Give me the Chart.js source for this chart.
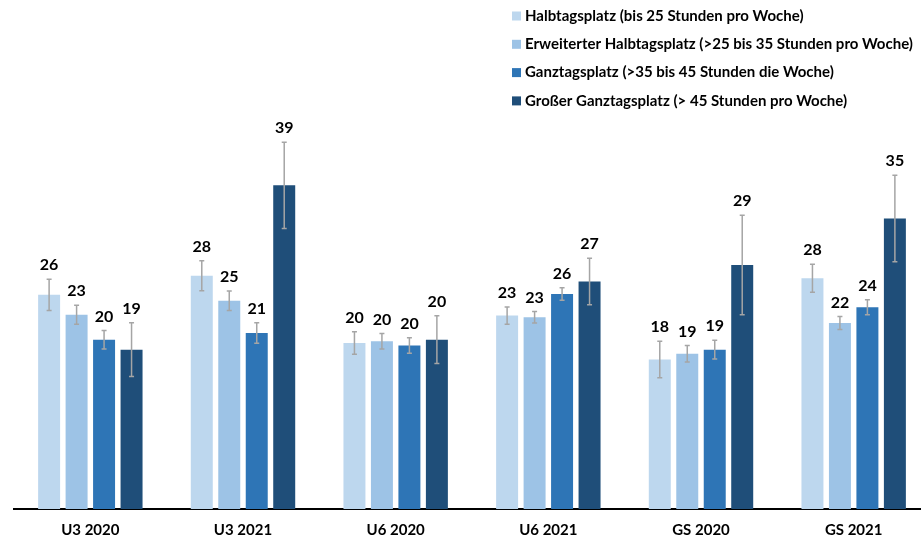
<!DOCTYPE html>
<html>
<head>
<meta charset="utf-8">
<script src="https://cdn.jsdelivr.net/npm/chart.js@4"></script>
<style>
    html, body { margin: 0; padding: 0; overflow: hidden; background: #fff; }
</style>
</head>
<body>
<canvas id="chart" width="930" height="540"></canvas>
<script>
const categories = ['U3 2020', 'U3 2021', 'U6 2020', 'U6 2021', 'GS 2020', 'GS 2021'];

const seriesNames = [
    'Halbtagsplatz (bis 25 Stunden pro Woche)',
    'Erweiterter Halbtagsplatz (>25 bis 35 Stunden pro Woche)',
    'Ganztagsplatz (>35 bis 45 Stunden die Woche)',
    'Großer Ganztagsplatz (> 45 Stunden pro Woche)'
];

const halbtag = [25.8, 28.1, 20.0, 23.3, 18.0, 27.8];
const erweitert = [23.4, 25.1, 20.2, 23.1, 18.7, 22.4];
const ganztag = [20.4, 21.2, 19.7, 25.9, 19.2, 24.3];
const grossGanztag = [19.2, 39.0, 20.4, 27.4, 29.4, 35.0];

// half width of the error bars (same units as the values)
const halbtagErr = [1.87, 1.8, 1.35, 1.05, 2.2, 1.7];
const erweitertErr = [1.14, 1.17, 0.93, 0.7, 0.99, 0.78];
const ganztagErr = [1.12, 1.24, 0.94, 0.76, 1.13, 0.9];
const grossGanztagErr = [3.25, 5.2, 2.87, 2.8, 6.0, 5.2];

const colors = ['#BDD7EE', '#9DC3E6', '#2E75B6', '#1F4E79'];
const FONT = 'Lato, "Open Sans", sans-serif';

const values = [halbtag, erweitert, ganztag, grossGanztag];
const errors = [halbtagErr, erweitertErr, ganztagErr, grossGanztagErr];

// error bars + value labels above them
const errorBarPlugin = {
    id: 'errorBars',
    afterDatasetsDraw(chart) {
        const ctx = chart.ctx;
        const y = chart.scales.y;
        ctx.save();
        chart.data.datasets.forEach((ds, i) => {
            const meta = chart.getDatasetMeta(i);
            meta.data.forEach((bar, j) => {
                const v = ds.data[j];
                const e = errors[i][j];
                const top = y.getPixelForValue(v + e);
                const bottom = y.getPixelForValue(v - e);
                ctx.strokeStyle = '#A5A5A5';
                ctx.lineWidth = 1.5;
                ctx.beginPath();
                ctx.moveTo(bar.x, top);
                ctx.lineTo(bar.x, bottom);
                ctx.moveTo(bar.x - 2.5, top);
                ctx.lineTo(bar.x + 2.5, top);
                ctx.moveTo(bar.x - 2.5, bottom);
                ctx.lineTo(bar.x + 2.5, bottom);
                ctx.stroke();

                ctx.fillStyle = '#000';
                ctx.font = 'bold 16px ' + FONT;
                ctx.textAlign = 'center';
                ctx.textBaseline = 'middle';
                ctx.fillText(Math.round(v).toString(), bar.x, top - 14);
            });
        });
        ctx.restore();
    }
};

// legend drawn as a vertical list at the top right
const legendPlugin = {
    id: 'cornerLegend',
    afterDraw(chart) {
        const ctx = chart.ctx;
        ctx.save();
        ctx.font = 'bold 15px ' + FONT;
        ctx.textBaseline = 'middle';
        ctx.textAlign = 'left';
        chart.data.datasets.forEach((ds, i) => {
            const cy = 16 + i * 28.3;
            ctx.fillStyle = ds.backgroundColor;
            ctx.fillRect(512, cy - 4.5, 9, 9);
            ctx.fillStyle = '#000';
            ctx.fillText(ds.label, 525, cy);
        });
        ctx.restore();
    }
};

new Chart(document.getElementById('chart'), {
    type: 'bar',
    data: {
        labels: categories,
        datasets: values.map((data, i) => ({
            label: seriesNames[i],
            data: data,
            backgroundColor: colors[i],
            categoryPercentage: 0.72,
            barPercentage: 0.8
        }))
    },
    options: {
        responsive: false,
        animation: false,
        layout: {
            padding: {left: 14, right: 0, top: 94, bottom: 0}
        },
        plugins: {
            legend: {display: false},
            tooltip: {enabled: false}
        },
        scales: {
            x: {
                grid: {display: false, drawTicks: false},
                border: {display: true, color: '#000', width: 2},
                ticks: {
                    color: '#000',
                    font: {family: FONT, size: 15, weight: 'bold'},
                    padding: 12
                },
                afterFit(scale) {
                    scale.height = 31;
                }
            },
            y: {
                display: false,
                min: 0,
                max: 50
            }
        }
    },
    plugins: [errorBarPlugin, legendPlugin]
});
</script>
</body>
</html>
